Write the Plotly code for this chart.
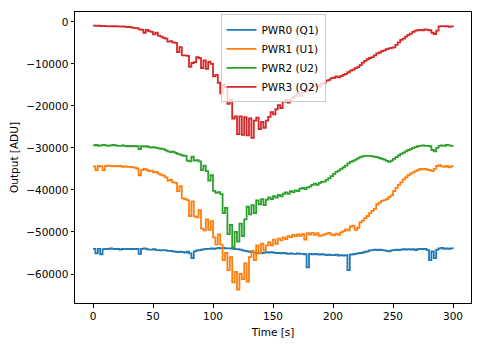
import plotly.graph_objects as go

time_s = list(range(0, 301, 2))

pwr3_q2 = [
    -900, -950, -900, -1000, -950, -1000, -1050, -1000, -1100, -1050,
    -1100, -1150, -1100, -1200, -1250, -1200, -1400, -1500, -1500, -1800,
    -1900, -2600, -1900, -2200, -2400, -3000, -2600, -3300, -3500, -3800,
    -4000, -4700, -4600, -4900, -5000, -7200, -6000, -8000, -8000, -8100,
    -10700, -9800, -9600, -8400, -8600, -11000, -9200, -11200, -9500, -10000,
    -13000, -12600, -14500, -17000, -15000, -15500, -19500, -18500, -23000, -22500,
    -26700, -22500, -26900, -22700, -27000, -23000, -27600, -23500, -22800, -25500,
    -23800, -25200, -23500, -22600, -21500, -22000, -20800, -19800, -20500, -19000,
    -18600, -19200, -18500, -18000, -17600, -17000, -17600, -16800, -16300, -16000,
    -16400, -15500, -15200, -15000, -15400, -14800, -14500, -14000, -13800, -13400,
    -13300, -13000, -13200, -12900, -12600, -12400, -12000, -11600, -11400, -11000,
    -10800, -10300, -9700, -9300, -8900, -8600, -8400, -8000, -7500, -7300,
    -7000, -6800, -6500, -6300, -6200, -6100, -5500, -4900, -4300, -4000,
    -3500, -3100, -2800, -2400, -2100, -2000, -1900, -2000, -1800, -1900,
    -2000, -2600, -2900, -2100, -1100, -1000, -1100, -1000, -1200, -1100,
    -1200,
]

pwr2_u2 = [
    -29400, -29300, -29500, -29400, -29300, -29400, -29500, -29400, -29300, -29400,
    -29500, -29500, -29400, -29500, -29600, -29500, -29600, -29500, -29600, -30300,
    -29600, -29700, -29600, -29800, -29900, -29800, -30000, -30100, -30200, -30300,
    -30600, -30800, -31000, -30900, -31200, -31400, -31600, -31800, -31900, -33000,
    -33200, -32100, -33000, -32900, -33200, -35300, -34200, -35500, -37800, -36500,
    -40200, -40700, -40500, -41000, -45500, -44300, -50500, -48300, -53700, -50000,
    -52300, -48000, -51000, -47000, -44000, -45800, -43600, -45500, -42500, -43400,
    -42200, -43600, -42300, -41800, -42200, -41500, -41800, -41200, -41500, -40900,
    -40600, -40900, -40300, -40500, -40100, -40300, -39700, -39500, -39800, -39400,
    -39200, -38800, -38500, -38800, -38300, -38100, -38000, -37600, -37200, -36700,
    -36200, -35700, -35400, -35000, -34600, -34200, -33700, -33300, -33100, -32800,
    -32500, -32200, -32000, -31900, -31900, -31900, -32000, -32100, -32200, -32400,
    -32600, -32800, -33100, -33300, -33000, -32600, -32200, -31800, -31400, -31100,
    -30800, -30500, -30300, -30000, -29800, -29600, -29500, -29400, -29500, -29500,
    -29600, -30500, -30800, -30000, -29500, -29400, -29500, -29300, -29400, -29500,
    -29400,
]

pwr1_u1 = [
    -34400, -35300, -34300, -34400, -35300, -34300, -34200, -34300, -34400, -34300,
    -34400, -34300, -34500, -34400, -34500, -34500, -34600, -34700, -34900, -36500,
    -35300, -35000, -35200, -35500, -35400, -35800, -35700, -36100, -36400, -36600,
    -37000, -37800, -37600, -38200, -38300, -40300, -39100, -42000, -42200, -42400,
    -46200, -42700, -46300, -46500, -44800, -49200, -49600, -47000, -49500, -47400,
    -51300, -53000, -50600, -53000, -56700, -55000, -59100, -56000, -62000, -59500,
    -63700, -60000, -61200, -57500, -61800, -56000, -54500, -56700, -53200, -55000,
    -52800, -54400, -53200, -52400, -53200, -51800, -52800, -51600, -52000, -51300,
    -51700, -51000, -51200, -50700, -51000, -50600, -50900, -50500, -51800, -50300,
    -50600, -50200, -50700, -50300, -50900, -50800, -50600, -50400, -50200, -50600,
    -50800, -50400, -50700, -50100, -49800, -49400, -49600, -48700, -48500, -49500,
    -49000, -47700, -47300, -46700, -46200, -45500, -45000, -44500, -43400, -43000,
    -42600, -42400, -42200, -41700, -41300, -40300, -39500, -38800, -38200, -37500,
    -37000, -36500, -36100, -35800, -35500, -35300, -35000, -35100, -35000, -35200,
    -35300, -35500, -35000, -34300, -34100, -34400, -34500, -34300, -34600, -34400,
    -34500,
]

pwr0_q1 = [
    -54000, -55100, -54000, -55300, -54100, -54000, -54100, -53900, -54000, -54100,
    -54000, -54200, -54000, -54100, -54000, -54100, -54000, -54100, -54000, -55200,
    -54000, -53900, -54100, -54200, -54200, -54100, -54300, -54300, -54400, -54300,
    -54400, -54500, -54500, -54600, -54700, -54800, -54700, -54800, -54900, -54700,
    -55100, -56200, -54600, -54400, -54300, -54200, -54100, -54000, -54000, -53900,
    -54000, -53900, -53800, -53900, -53800, -53900, -53900, -53900, -54000, -54100,
    -54100, -54200, -54400, -54500, -54600, -54700, -54800, -54900, -55000, -55100,
    -55000, -54900, -54800, -54900, -54800, -54900, -55000, -55000, -55100, -55000,
    -55100, -55200, -55100, -55200, -55200, -55100, -55200, -55200, -55300, -58400,
    -55200, -55300, -55200, -55300, -55400, -55300, -55400, -55500, -55400, -55500,
    -55500, -55400, -55600, -55500, -55600, -55500, -59100, -55400, -55300, -55200,
    -55100, -55000, -54900, -54700, -54600, -54400, -54300, -54200, -54300, -54200,
    -54300, -54400, -54500, -54600, -54400, -54300, -54200, -54300, -54200, -54100,
    -54200, -54100, -54200, -54100, -54300, -54100, -54000, -54100, -54000, -54300,
    -56700, -54600, -56200, -54200, -53900, -53800, -54000, -53900, -54000, -53900,
    -54000,
]

series_names = ["PWR0 (Q1)", "PWR1 (U1)", "PWR2 (U2)", "PWR3 (Q2)"]
series_values = [pwr0_q1, pwr1_u1, pwr2_u2, pwr3_q2]
series_colors = ["#1f77b4", "#ff7f0e", "#2ca02c", "#d62728"]

x_ticks = [0, 50, 100, 150, 200, 250, 300]
y_ticks = [0, -10000, -20000, -30000, -40000, -50000, -60000]
y_tick_labels = ["0", "\u221210000", "\u221220000", "\u221230000",
                 "\u221240000", "\u221250000", "\u221260000"]

fig = go.Figure()
for name, vals, col in zip(series_names, series_values, series_colors):
    fig.add_trace(go.Scatter(
        x=time_s, y=vals, name=name, mode="lines",
        line=dict(color=col, width=1.8, shape="hv"),
    ))

font_family = "DejaVu Sans"
axis_common = dict(
    showline=True, linecolor="black", linewidth=1, mirror=True,
    ticks="outside", ticklen=3.5, tickwidth=0.8, tickcolor="black",
    showgrid=False, zeroline=False,
    tickfont=dict(family=font_family, size=10.5, color="black"),
)

fig.update_layout(
    width=483, height=347,
    margin=dict(l=75, r=11, t=11, b=40),
    paper_bgcolor="white", plot_bgcolor="white",
    font=dict(family=font_family, size=10.5, color="black"),
    xaxis=dict(
        range=[-15, 315], tickvals=x_ticks,
        title=dict(text="Time [s]", font=dict(family=font_family, size=10.5), standoff=7),
        **axis_common,
    ),
    yaxis=dict(
        range=[-66900, 2340], tickvals=y_ticks, ticktext=y_tick_labels,
        title=dict(text="Output [ADU]", font=dict(family=font_family, size=10.5), standoff=5),
        **axis_common,
    ),
    legend=dict(
        x=0.5, xanchor="center", y=0.992, yanchor="top",
        bgcolor="rgba(255,255,255,0.8)", bordercolor="#cccccc", borderwidth=1,
        font=dict(family=font_family, size=10.5, color="black"),
        itemwidth=30, tracegroupgap=0,
    ),
    showlegend=True,
)

fig.write_html("out.html")
